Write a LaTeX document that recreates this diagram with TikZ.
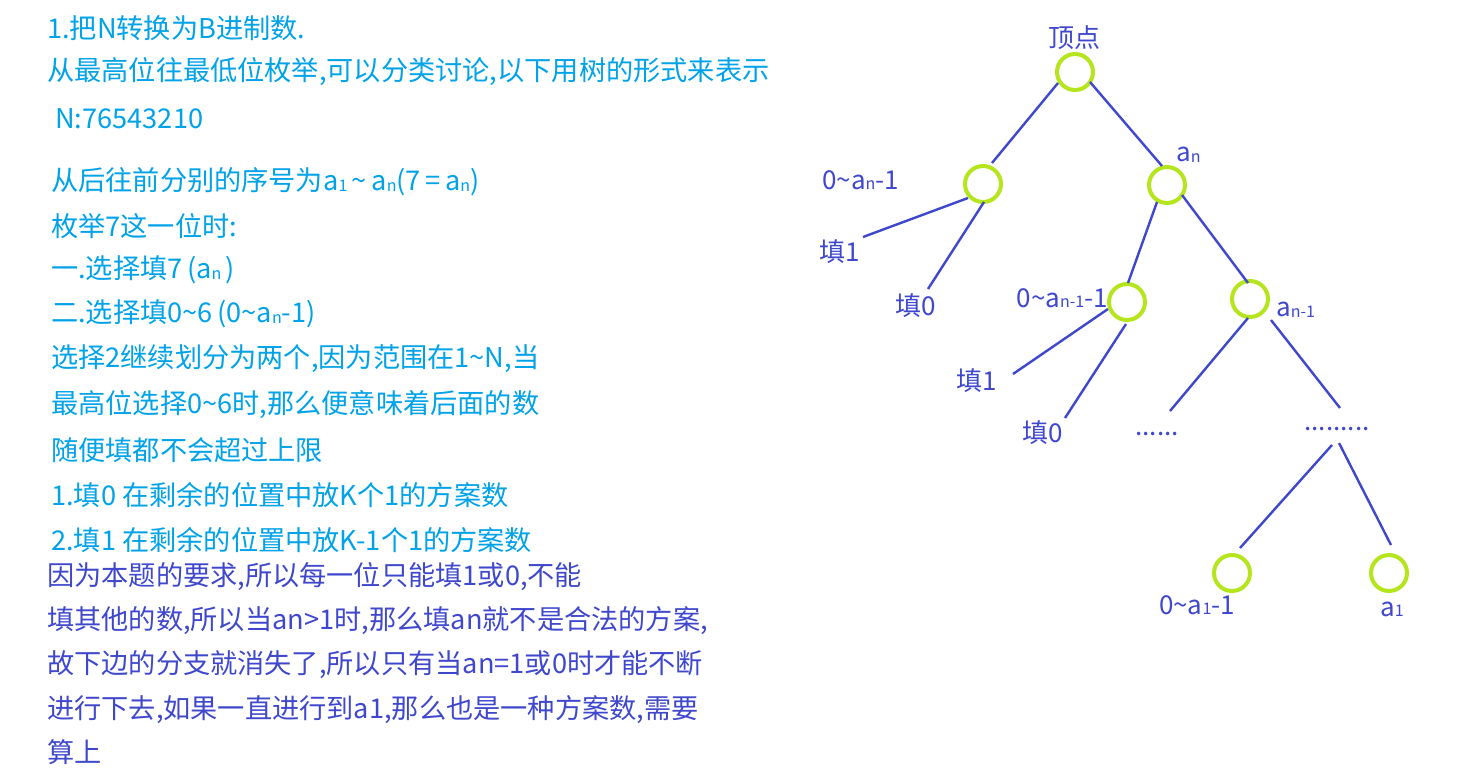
\documentclass[tikz,border=0pt]{standalone}
\usepackage{fontspec}
\newfontfamily\cjk{Noto Sans CJK SC}
\definecolor{lblue}{RGB}{0,162,232}
\definecolor{ind}{RGB}{63,72,204}
\definecolor{lime}{RGB}{181,230,29}
\newcommand\sbx[1]{{\fontsize{16}{16}\selectfont\raisebox{-0.5pt}{#1}}}
\newcommand\tld{\char"7E\relax}
\tikzset{
  ltext/.style={anchor=west,inner sep=0pt,text=lblue,font=\cjk\fontsize{27.2}{30}\selectfont},
  dtext/.style={anchor=west,inner sep=0pt,text=ind,font=\cjk\fontsize{27.2}{30}\selectfont},
  tlabel/.style={inner sep=0pt,text=ind,font=\cjk\fontsize{26}{28}\selectfont},
  tnode/.style={circle,draw=lime,line width=4pt,minimum size=36pt,inner sep=0pt},
  edge/.style={draw=ind,line width=2.4pt},
}
\begin{document}
\begin{tikzpicture}[x=1pt,y=-1pt]
\useasboundingbox[fill=white] (0,0) rectangle (1473,774);
% left text
\node[ltext] (l1) at (47,28) {1.把N转换为B进制数.};
\node[ltext] (l2) at (47,72) {从最高位往最低位枚举,可以分类讨论,以下用树的形式来表示};
\node[ltext] (l3) at (55,119) {N:76543210};
\node[ltext] (l4) at (51,182) {从后往前分别的序号为a\sbx{1}\,\tld\,a\sbx{n}(7\,=\,a\sbx{n})};
\node[ltext] (l5) at (51,226) {枚举7这一位时:};
\node[ltext] (l6) at (51,270) {一.选择填7\,(a\sbx{n}\,)};
\node[ltext] (l7) at (51,314) {二.选择填0\tld6\,(0\tld a\sbx{n}-1)};
\node[ltext] (l8) at (51,359) {选择2继续划分为两个,因为范围在1\tld N,当};
\node[ltext] (l9) at (51,405) {最高位选择0\tld6时,那么便意味着后面的数};
\node[ltext] (l10) at (51,450) {随便填都不会超过上限};
\node[ltext] (l11) at (51,495) {1.填0 在剩余的位置中放K个1的方案数};
\node[ltext] (l12) at (51,540) {2.填1 在剩余的位置中放K-1个1的方案数};
\node[dtext] (d1) at (47,577) {因为本题的要求,所以每一位只能填1或0,不能};
\node[dtext] (d2) at (47,621) {填其他的数,所以当an>1时,那么填an就不是合法的方案,};
\node[dtext] (d3) at (47,665) {故下边的分支就消失了,所以只有当an=1或0时才能不断};
\node[dtext] (d4) at (47,710) {进行下去,如果一直进行到a1,那么也是一种方案数,需要};
\node[dtext] (d5) at (47,752) {算上};
% tree nodes
\node[tnode] (top) at (1075,72) {};
\node[tnode] (L) at (983,184) {};
\node[tnode] (R) at (1167,185) {};
\node[tnode] (RL) at (1127,302) {};
\node[tnode] (RR) at (1250,299) {};
\node[tnode] (B1) at (1232,573) {};
\node[tnode] (B2) at (1389,573) {};
% labels
\node[tlabel] (ttop) at (1074,38) {顶点};
\node[tlabel,anchor=west] (tL) at (822,180) {0\tld a\sbx{n}-1};
\node[tlabel,anchor=west] (tR) at (1176,155) {a\sbx{n}};
\node[tlabel] (f1a) at (840,252) {填1};
\node[tlabel] (f0a) at (916,306) {填0};
\node[tlabel,anchor=east] (tRL) at (1108,298) {0\tld a\sbx{n-1}-1};
\node[tlabel,anchor=west] (tRR) at (1276,310) {a\sbx{n-1}};
\node[tlabel] (f1b) at (977,381) {填1};
\node[tlabel] (f0b) at (1043,433) {填0};
\node[tlabel] (dotsA) at (1157,434) {......};
\node[tlabel] (dotsB) at (1337,429) {.........};
\node[tlabel] (tB1) at (1197,605) {0\tld a\sbx{1}-1};
\node[tlabel] (tB2) at (1392,609) {a\sbx{1}};
% edge end points
\coordinate (e1) at (1058,83);  \coordinate (e1b) at (992,163);
\coordinate (e2) at (1090,82);  \coordinate (e2b) at (1162,166);
\coordinate (e3) at (968,198);  \coordinate (e3b) at (863,237);
\coordinate (e4) at (984,202);  \coordinate (e4b) at (928,289);
\coordinate (e5) at (1157,202); \coordinate (e5b) at (1128,283);
\coordinate (e6) at (1182,195); \coordinate (e6b) at (1248,283);
\coordinate (e7) at (1108,309); \coordinate (e7b) at (1013,374);
\coordinate (e8) at (1126,324); \coordinate (e8b) at (1065,418);
\coordinate (e9) at (1248,318); \coordinate (e9b) at (1170,411);
\coordinate (e10) at (1271,320); \coordinate (e10b) at (1340,408);
\coordinate (e11) at (1332,445); \coordinate (e11b) at (1240,548);
\coordinate (e12) at (1339,443); \coordinate (e12b) at (1391,545);
\foreach \a/\b in {e1/e1b,e2/e2b,e3/e3b,e4/e4b,e5/e5b,e6/e6b,e7/e7b,e8/e8b,e9/e9b,e10/e10b,e11/e11b,e12/e12b}
  \draw[edge] (\a) -- (\b);
\end{tikzpicture}
\end{document}
